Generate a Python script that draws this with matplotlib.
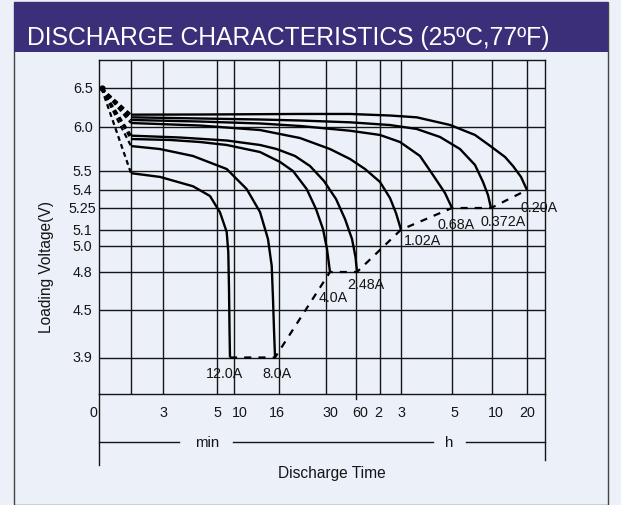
import numpy as np
import matplotlib
matplotlib.use('Agg')
import matplotlib.pyplot as plt
from matplotlib.patches import Rectangle
from matplotlib.lines import Line2D
from matplotlib import transforms

plt.rcParams['font.family'] = ['Liberation Sans', 'DejaVu Sans']

# ---------------- data ----------------
title = "DISCHARGE CHARACTERISTICS (25ºC,77ºF)"
x_grid_min = [0, 1, 3, 5, 10, 16, 30, 60, 120, 180, 300, 600, 1200]
x_tick_labels = ['0', '', '3', '5', '10', '16', '30', '60', '2', '3', '5', '10', '20']
y_grid_v = [3.9, 4.5, 4.8, 5.0, 5.1, 5.25, 5.4, 5.5, 6.0, 6.5]
y_tick_labels = ['3.9', '4.5', '4.8', '5.0', '5.1', '5.25', '5.4', '5.5', '6.0', '6.5']

start_time = 0.08   # min
start_volt = 6.5

curve_labels = ['12.0A', '8.0A', '4.0A', '2.48A', '1.02A', '0.68A', '0.372A', '0.20A']
t_12A = [1, 2.81, 4.11, 4.74, 5.88, 7.85, 8.32, 8.53, 8.68, 8.82]
v_12A = [5.49, 5.47, 5.42, 5.35, 5.22, 5.086, 4.95, 4.67, 4.26, 3.9]
t_8A = [1, 2.81, 4.11, 7.85, 11.69, 13.47, 14.53, 15.03, 15.2, 15.33, 15.47]
v_8A = [5.787, 5.753, 5.674, 5.526, 5.405, 5.222, 5.042, 4.846, 4.587, 4.26, 3.9]
t_4A = [1, 3.26, 4.37, 7.85, 13.47, 16.3, 20.17, 24.25, 27.02, 29.1, 31, 34]
v_4A = [5.867, 5.856, 5.833, 5.799, 5.719, 5.606, 5.503, 5.405, 5.243, 5.105, 4.975, 4.8]
t_248A = [1, 3.63, 7.85, 13.47, 15.69, 20.77, 25.23, 29.4, 40, 49, 56, 59.5, 62.5]
v_248A = [5.905, 5.884, 5.85, 5.799, 5.753, 5.674, 5.56, 5.448, 5.325, 5.174, 5.042, 4.914, 4.8]
t_102A = [1, 4.37, 13.47, 22.26, 34, 54, 82.5, 120, 148.6, 165.7, 180]
v_102A = [6.055, 6.023, 5.969, 5.878, 5.753, 5.64, 5.526, 5.443, 5.333, 5.215, 5.1]
t_068A = [1, 4.37, 13.47, 22.26, 54, 120, 177.1, 224.7, 255.3, 283.5, 300]
v_068A = [6.094, 6.074, 6.049, 6.017, 5.961, 5.913, 5.833, 5.674, 5.48, 5.375, 5.25]
t_0372A = [1, 4.37, 13.47, 22.26, 54, 148.6, 216.9, 271.8, 360, 472.5, 532.5, 570, 592.5]
v_0372A = [6.128, 6.113, 6.1, 6.087, 6.064, 6.029, 5.981, 5.89, 5.753, 5.572, 5.443, 5.358, 5.25]
t_020A = [1, 4.37, 22.26, 54, 148.6, 216.9, 295.3, 472.5, 585, 822.9, 960, 1097, 1200]
v_020A = [6.162, 6.164, 6.171, 6.171, 6.151, 6.128, 6.03, 5.913, 5.79, 5.663, 5.56, 5.47, 5.4]

curves_t = [t_12A, t_8A, t_4A, t_248A, t_102A, t_068A, t_0372A, t_020A]
curves_v = [v_12A, v_8A, v_4A, v_248A, v_102A, v_068A, v_0372A, v_020A]

# ---------------- layout / scales ----------------
W, H = 621, 506
X_BREAK_MIN = [0, 1, 3, 5, 10, 16, 30, 60, 120, 180, 300, 600, 1200, 1500]
X_BREAK_POS = [0, 32, 64, 118, 135, 180, 227, 257, 281, 302, 353, 393, 428, 446]
Y_BREAK_V = [3.44, 3.9, 4.5, 4.8, 5.0, 5.1, 5.25, 5.4, 5.5, 6.0, 6.5, 6.86]
Y_BREAK_POS = [0, 36.5, 84, 122, 148.3, 164.3, 186, 204, 222.7, 266.7, 305.7, 334]

def xf(m):
    return np.interp(np.asarray(m, float), X_BREAK_MIN, X_BREAK_POS)
def xi(p):
    return np.interp(np.asarray(p, float), X_BREAK_POS, X_BREAK_MIN)
def yf(v):
    return np.interp(np.asarray(v, float), Y_BREAK_V, Y_BREAK_POS)
def yi(p):
    return np.interp(np.asarray(p, float), Y_BREAK_POS, Y_BREAK_V)

BG = '#EBF0F9'
HEAD = '#3B2F7A'
INK = '#151515'

fig = plt.figure(figsize=(W / 100, H / 100), dpi=100, facecolor=BG)

def fx(px):
    return px / W
def fy(py):
    return 1 - py / H

# panel and header
fig.patches.append(Rectangle((fx(14), fy(505.5)), fx(608) - fx(14), fy(3) - fy(505.5),
                             transform=fig.transFigure, facecolor='none', edgecolor='#444444',
                             lw=1.0, zorder=-5))
fig.patches.append(Rectangle((fx(14), fy(53)), fx(608) - fx(14), fy(3) - fy(53),
                             transform=fig.transFigure, facecolor=HEAD, edgecolor='none', zorder=-4))
fig.text(fx(27), fy(44.5), title, color='white', fontsize=17.8, ha='left', va='baseline')

ax_l, ax_r, ax_t, ax_b = 99, 545, 61, 395
ax = fig.add_axes([fx(ax_l), fy(ax_b), fx(ax_r) - fx(ax_l), fy(ax_t) - fy(ax_b)])
ax.set_facecolor(BG)
ax.set_xscale('function', functions=(xf, xi))
ax.set_yscale('function', functions=(yf, yi))
ax.set_xlim(0, 1500)
ax.set_ylim(3.44, 6.86)
for s in ax.spines.values():
    s.set_color(INK)
    s.set_linewidth(1.0)
ax.set_xticks([])
ax.set_yticks([])
ax.minorticks_off()

for m in x_grid_min[1:]:
    ax.axvline(m, color=INK, lw=1.0, zorder=1)
for v in y_grid_v:
    ax.axhline(v, color=INK, lw=1.0, zorder=1)

# curves
for t, v in zip(curves_t, curves_v):
    ax.plot(t, v, color='black', lw=1.7, zorder=3, solid_capstyle='butt',
            solid_joinstyle='round')
    ax.plot([start_time, t[0]], [start_volt, v[0]], color='black', lw=1.6,
            linestyle=(0, (2.2, 1.6)), zorder=3)
ax.plot([start_time], [start_volt], 'o', color='black', ms=3.5, zorder=4)

# cutoff (end) line
end_t = [t[-1] for t in curves_t]
end_v = [v[-1] for v in curves_v]
ax.plot(end_t, end_v, color='black', lw=1.6, linestyle=(0, (3.2, 3.2)), zorder=3)

# curve labels
label_off = [(-5, -16), (2, -15), (3, -25), (9, -12), (21, -10), (4, -16), (12, -13), (12, -17)]
for lab, t, v, off in zip(curve_labels, curves_t, curves_v, label_off):
    ax.annotate(lab, (t[-1], v[-1]), xytext=off, textcoords='offset pixels',
                ha='center', va='center', fontsize=10.3, color=INK, zorder=5,
                annotation_clip=False)

# x tick labels
x_lab_dx = [-5.5, 0, 0, 0, 6, -2, 4, 4, -2, 0, 2, 4, 0]
for m, lab, dx in zip(x_grid_min, x_tick_labels, x_lab_dx):
    if lab:
        tr = transforms.offset_copy(ax.transData, fig=fig, x=dx, y=0, units='dots')
        tr = transforms.blended_transform_factory(tr, fig.transFigure)
        ax.text(m, fy(413), lab, transform=tr, ha='center', va='center',
                fontsize=10.3, color=INK, clip_on=False)
# y tick labels
for v, lab in zip(y_grid_v, y_tick_labels):
    tr = transforms.blended_transform_factory(fig.transFigure, ax.transData)
    ax.text(fx(82.7), v, lab, transform=tr, ha='center', va='center',
            fontsize=10.3, color=INK, clip_on=False)

# 60 min tick below axis
trx = transforms.blended_transform_factory(ax.transData, fig.transFigure)
ax.add_line(Line2D([60, 60], [fy(395), fy(399.5)], transform=trx, color=INK, lw=1.0, clip_on=False))

# extra frame lines below axes
fig.add_artist(Line2D([fx(99), fx(99)], [fy(395), fy(466)], color=INK, lw=1.0))
fig.add_artist(Line2D([fx(545), fx(545)], [fy(395), fy(461)], color=INK, lw=1.0))
for a, b in [(99, 179), (233, 433), (466, 545)]:
    fig.add_artist(Line2D([fx(a), fx(b)], [fy(443), fy(443)], color=INK, lw=1.0))
fig.text(fx(206.7), fy(443), 'min', ha='center', va='center', fontsize=10.8, color=INK)
fig.text(fx(449), fy(443), 'h', ha='center', va='center', fontsize=10.8, color=INK)
fig.text(fx(332), fy(474), 'Discharge Time', ha='center', va='center', fontsize=11.2, color=INK)
fig.text(fx(46.7), fy(267), 'Loading Voltage(V)', ha='center', va='center', rotation=90,
         fontsize=11.2, color=INK)

fig.savefig('out.png', dpi=100, facecolor=BG)
